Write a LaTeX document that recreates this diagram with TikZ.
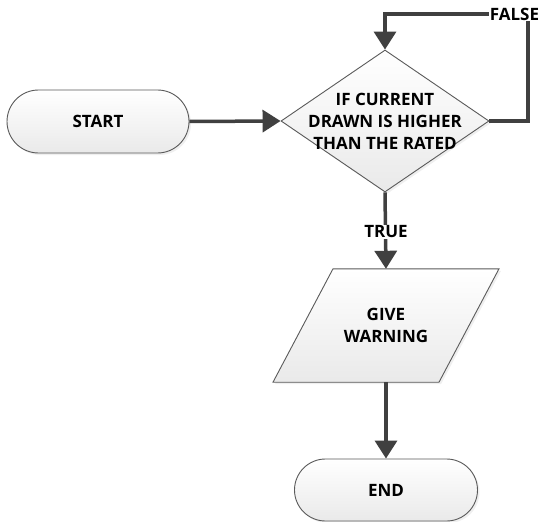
\documentclass[tikz,border=0pt]{standalone}
\usepackage{fontspec}
\setmainfont{Open Sans}
\usetikzlibrary{shapes.geometric,arrows.meta,shadows}
\definecolor{edgec}{HTML}{5A5A5A}
\definecolor{arrowc}{HTML}{404040}
\begin{document}
\begin{tikzpicture}[x=1pt,y=-1pt,
  shapebox/.style={draw=edgec, line width=0.9pt, top color=white, bottom color=gray!17,
    drop shadow={shadow xshift=2pt, shadow yshift=-2pt, opacity=0.12}},
  lbl/.style={font=\bfseries\fontsize{17}{22}\selectfont, align=center, text=black},
  conn/.style={draw=arrowc, line width=3.5pt, -{Triangle[length=18pt,width=22pt]}},
  tag/.style={lbl, fill=white, inner sep=1pt}]
\useasboundingbox[fill=white] (0,0) rectangle (539,522);

\node[shapebox, rounded corners=31.5pt, minimum width=182pt, minimum height=63pt, lbl] (start) at (98,121.5) {START};

\node[shapebox, diamond, minimum width=208pt, minimum height=142pt, inner sep=0pt, aspect=1.465] (dec) at (385,121) {};
\node[lbl] (dectext) at (dec.center) {IF CURRENT\\DRAWN IS HIGHER\\THAN THE RATED};

\node[minimum width=166pt, minimum height=113pt, inner sep=0pt] (warn) at (386,325.5) {};
\path[shapebox] ([xshift=-53pt]warn.north) -- ([xshift=113pt]warn.north) -- ([xshift=53pt]warn.south) -- ([xshift=-113pt]warn.south) -- cycle;
\node[lbl] (warntext) at (warn.center) {GIVE\\WARNING};

\node[shapebox, rounded corners=31pt, minimum width=183pt, minimum height=62pt, lbl] (end) at (386,490) {END};

\draw[conn] (start.east) -- (dec.west);
\coordinate (fc) at (528,14);
\draw[conn] (dec.east) -| (fc) -| (dec.north);
\node[tag] (false) at (514.5,14) {FALSE};

\draw[conn] (dec.south) -- (warn.north);
\node[tag] (true) at (386,232) {TRUE};
\draw[conn] (warn.south) -- (end.north);
\end{tikzpicture}
\end{document}
